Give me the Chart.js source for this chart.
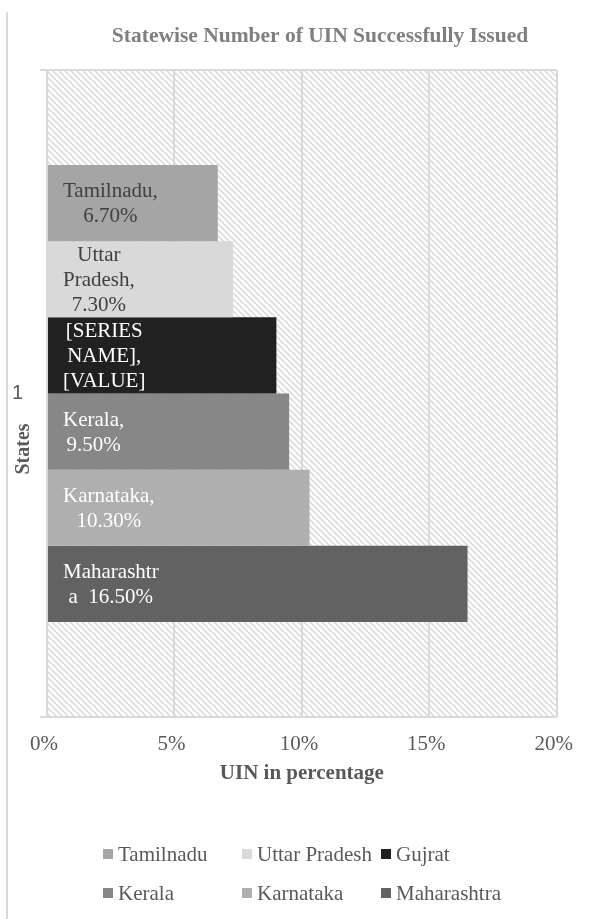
<!DOCTYPE html>
<html>
<head>
<meta charset="utf-8">
<script src="https://cdn.jsdelivr.net/npm/chart.js@4/dist/chart.umd.min.js"></script>
<style>
  html, body { margin: 0; padding: 0; background: #ffffff; }
  #wrap { width: 591px; height: 919px; }
  canvas { display: block; }
</style>
</head>
<body>
<div id="wrap"><canvas id="c" width="591" height="919"></canvas></div>
<script>
// ---- data ----
const categories = ['1'];
const states = ['Tamilnadu', 'Uttar Pradesh', 'Gujrat', 'Kerala', 'Karnataka', 'Maharashtra'];
const values = [6.7, 7.3, 9.0, 9.5, 10.3, 16.5];          // UIN issued, %
const xTickValues = [0, 5, 10, 15, 20];                   // axis ticks, %

// ---- styles ----
const colors = ['#a5a5a5', '#d9d9d9', '#212121', '#878787', '#afafaf', '#626262'];
const labelColors = ['#404040', '#404040', '#ffffff', '#ffffff', '#ffffff', '#ffffff'];
const SERIF = "'Liberation Serif', 'Times New Roman', serif";
const SANS = "'Liberation Sans', Arial, sans-serif";
const GRID = '#d9d9d9';
const TEXT = '#595959';

const pct = v => v.toFixed(2) + '%';

// Data label lines, wrapped the way the labels are laid out inside the bars
function labelLines(i) {
  const name = states[i];
  const v = pct(values[i]);
  switch (name) {
    case 'Uttar Pradesh': return ['Uttar', 'Pradesh,', v];
    case 'Gujrat': return ['[SERIES', 'NAME],', '[VALUE]'];
    case 'Maharashtra': return [name.slice(0, -1), name.slice(-1) + '  ' + v];
    default: return [name + ',', v];
  }
}

// Diagonal hatch used as the plot-area fill
function makeHatch(ctx) {
  const s = 6;
  const tile = document.createElement('canvas');
  tile.width = s; tile.height = s;
  const t = tile.getContext('2d');
  t.fillStyle = '#ffffff';
  t.fillRect(0, 0, s, s);
  t.strokeStyle = '#dcdcdc';
  t.lineWidth = 1.6;
  t.beginPath();
  t.moveTo(-1, -1); t.lineTo(s + 1, s + 1);
  t.moveTo(-1, s - 1); t.lineTo(1, s + 1);
  t.moveTo(s - 1, -1); t.lineTo(s + 1, 1);
  t.stroke();
  return ctx.createPattern(tile, 'repeat');
}

const backdrop = {
  id: 'backdrop',
  beforeDraw(chart) {
    const { ctx, chartArea: a } = chart;
    ctx.save();
    ctx.fillStyle = '#ffffff';
    ctx.fillRect(0, 0, chart.width, chart.height);
    ctx.fillStyle = makeHatch(ctx);
    ctx.fillRect(a.left, a.top, a.right - a.left, a.bottom - a.top);
    // outer frame edge on the left
    ctx.fillStyle = GRID;
    ctx.fillRect(6, 12, 2, chart.height - 12);
    // chart title
    ctx.fillStyle = '#7f7f7f';
    ctx.font = `bold 21.5px ${SERIF}`;
    ctx.textAlign = 'center';
    ctx.textBaseline = 'middle';
    ctx.fillText('Statewise Number of UIN Successfully Issued', 320, 36);
    // category-axis title, rotated, sitting below the category tick
    ctx.translate(24, 449);
    ctx.rotate(-Math.PI / 2);
    ctx.fillStyle = TEXT;
    ctx.font = `bold 20px ${SERIF}`;
    ctx.fillText('States', 0, 0);
    ctx.restore();
  }
};

const barLabels = {
  id: 'barLabels',
  afterDatasetsDraw(chart) {
    const ctx = chart.ctx;
    ctx.save();
    ctx.font = `21px ${SERIF}`;
    ctx.textAlign = 'center';
    ctx.textBaseline = 'middle';
    chart.data.datasets.forEach((ds, i) => {
      const el = chart.getDatasetMeta(i).data[0];
      const lines = labelLines(i);
      const w = Math.max(...lines.map(l => ctx.measureText(l).width));
      const cx = el.base + 15 + w / 2;
      const lh = 25;
      const y0 = el.y - (lines.length - 1) * lh / 2 + 1;
      ctx.fillStyle = labelColors[i];
      lines.forEach((l, k) => ctx.fillText(l, cx, y0 + k * lh));
    });
    ctx.restore();
  }
};

const gridLegend = {
  id: 'gridLegend',
  afterDraw(chart) {
    const ctx = chart.ctx;
    const cols = [103, 242, 381];
    const rows = [854, 893];
    ctx.save();
    ctx.font = `21px ${SERIF}`;
    ctx.textAlign = 'left';
    ctx.textBaseline = 'middle';
    chart.data.datasets.forEach((ds, i) => {
      const x = cols[i % 3];
      const y = rows[Math.floor(i / 3)];
      ctx.fillStyle = ds.backgroundColor;
      ctx.fillRect(x, y - 5, 10, 10);
      ctx.fillStyle = TEXT;
      ctx.fillText(ds.label, x + 15, y + 1);
    });
    ctx.restore();
  }
};

function draw() {
  new Chart(document.getElementById('c'), {
    type: 'bar',
    data: {
      labels: categories,
      datasets: states.map((s, i) => ({
        label: s,
        data: [values[i]],
        backgroundColor: colors[i],
        borderWidth: 0,
        barPercentage: 1,
        categoryPercentage: 0.706
      }))
    },
    options: {
      indexAxis: 'y',
      responsive: false,
      animation: false,
      events: [],
      layout: { padding: { left: 0, right: 32, top: 70, bottom: 132 } },
      plugins: {
        legend: { display: false },
        title: { display: false },
        tooltip: { enabled: false }
      },
      scales: {
        x: {
          min: xTickValues[0],
          max: xTickValues[xTickValues.length - 1],
          ticks: {
            stepSize: xTickValues[1] - xTickValues[0],
            callback: v => v + '%',
            color: TEXT,
            font: { family: SERIF, size: 21 },
            padding: 15,
            labelOffset: -3,
            maxRotation: 0
          },
          grid: { color: GRID, lineWidth: 2, drawTicks: false },
          border: { display: false },
          title: {
            display: true,
            text: 'UIN in percentage',
            color: TEXT,
            font: { family: SERIF, size: 21, weight: 'bold' },
            padding: { top: 0, bottom: 1 }
          },
          afterFit(scale) { scale.height = 70; }
        },
        y: {
          ticks: {
            color: TEXT,
            font: { family: SANS, size: 20 },
            padding: 17
          },
          grid: { color: GRID, lineWidth: 2, tickLength: 7 },
          border: { display: false },
          title: { display: false },
          afterFit(scale) { scale.width = 47; }
        }
      }
    },
    plugins: [backdrop, barLabels, gridLegend]
  });
}

const fontLoads = [
  '21px "Liberation Serif"', 'bold 21px "Liberation Serif"', '20px "Liberation Sans"'
].map(f => document.fonts.load(f).catch(() => null));
Promise.all(fontLoads).then(draw, draw);
</script>
</body>
</html>
